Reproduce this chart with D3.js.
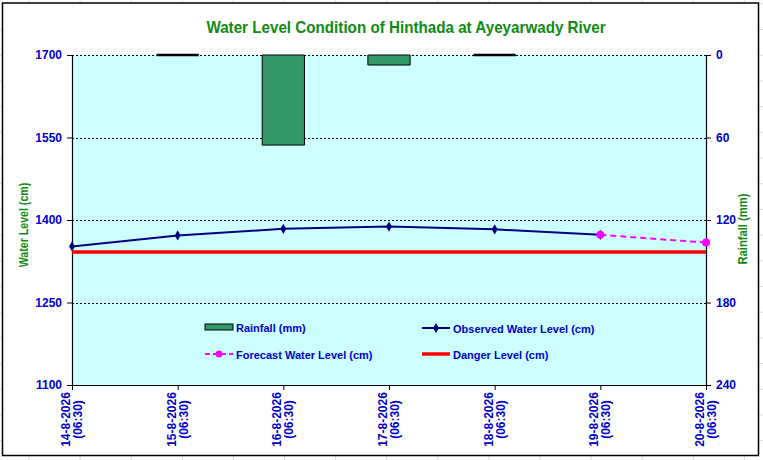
<!DOCTYPE html>
<html>
<head>
<meta charset="utf-8">
<script src="https://cdn.jsdelivr.net/npm/d3@7"></script>
<style>
  body { margin: 0; background: #fff; }
  svg { display: block; font-family: "Liberation Sans", Arial, sans-serif; font-weight: bold; }
</style>
</head>
<body>
<div class="chart"></div>
<script>
/////////////
// Data
/////////////
var dates = ['14-8-2026', '15-8-2026', '16-8-2026', '17-8-2026', '18-8-2026', '19-8-2026', '20-8-2026']
var hourLabel = '(06:30)'
var rainfall = [null, 0, 65.5, 7.3, 0, null, null]
var observed = [1352, 1372, 1384, 1388, 1383, 1373, null]
var forecast = [null, null, null, null, null, 1373, 1359]
var dangerLevel = 1342
var levelTicks = [1100, 1250, 1400, 1550, 1700]
var rainTicks = [0, 60, 120, 180, 240]

var title = 'Water Level Condition of Hinthada at Ayeyarwady River'
var legendItems = [
  {key: 'rain', text: 'Rainfall (mm)'},
  {key: 'obs', text: 'Observed Water Level (cm)'},
  {key: 'fc', text: 'Forecast Water Level (cm)'},
  {key: 'danger', text: 'Danger Level (cm)'}
]

////////////////
// Setup
////////////////
var w = 763, h = 460
var pLeft = 72, pRight = 706, pTop = 55, pBottom = 385
var blue = '#0000cc', green = '#108a10'

var svg = d3.select('div.chart').append('svg')
  .attr('width', w).attr('height', h)

// spreadsheet cells behind the chart
var cells = svg.append('g').attr('stroke', '#dcdcdc').attr('stroke-width', 1)
d3.range(29, w, 51.1).forEach(function(x) {
  cells.append('line').attr('x1', x).attr('x2', x).attr('y1', 0).attr('y2', h)
})
d3.range(158 - 25.7 * 6, h, 25.7).forEach(function(y) {
  cells.append('line').attr('x1', 0).attr('x2', w).attr('y1', y).attr('y2', y)
})

svg.append('rect')
  .attr('x', 2.5).attr('y', 3).attr('width', 756).attr('height', 452.5)
  .attr('fill', '#fff').attr('stroke', '#000').attr('stroke-width', 1.5)

var x = d3.scalePoint().domain(dates).range([pLeft, pRight])
var yL = d3.scaleLinear().domain([1100, 1700]).range([pBottom, pTop])
var yR = d3.scaleLinear().domain([0, 240]).range([pTop, pBottom])
var barW = x.step() / 2.5

// plot area
svg.append('rect')
  .attr('x', pLeft).attr('y', pTop).attr('width', pRight - pLeft).attr('height', pBottom - pTop)
  .attr('fill', '#ccffff')

// grid
svg.append('g').selectAll('line')
  .data(levelTicks.filter(d => d > 1100))
  .enter().append('line')
  .attr('x1', pLeft).attr('x2', pRight)
  .attr('y1', d => Math.round(yL(d)) + 0.5).attr('y2', d => Math.round(yL(d)) + 0.5)
  .attr('stroke', '#000').attr('stroke-dasharray', '2,2')

// title
svg.append('text')
  .attr('transform', 'translate(406,33) scale(0.95,1)')
  .attr('text-anchor', 'middle')
  .attr('font-size', 16).attr('fill', green)
  .text(title)

// rainfall bars hang from the top (paths so a zero bar still shows its edge)
svg.append('g').selectAll('path')
  .data(dates.map((d, i) => ({date: d, v: rainfall[i]})).filter(d => d.v != null))
  .enter().append('path')
  .attr('d', d => `M${x(d.date) - barW / 2},${yR(0)}h${barW}V${yR(d.v)}h${-barW}Z`)
  .attr('fill', '#339966')
  .attr('stroke', '#000').attr('stroke-width', d => d.v > 0 ? 1 : 2.5)

// axes
var axL = svg.append('g').attr('transform', `translate(${pLeft},0)`)
  .call(d3.axisLeft(yL).tickValues(levelTicks).tickFormat(d3.format('d')).tickSize(5).tickPadding(5).tickSizeOuter(0))
var axR = svg.append('g').attr('transform', `translate(${pRight},0)`)
  .call(d3.axisRight(yR).tickValues(rainTicks).tickSize(5).tickPadding(5).tickSizeOuter(0))
var axB = svg.append('g').attr('transform', `translate(0,${pBottom})`)
  .call(d3.axisBottom(x).tickSize(5).tickSizeOuter(0).tickFormat(''))

;[axL, axR, axB].forEach(function(a) {
  a.attr('font-family', null)
  a.select('.domain').attr('stroke', '#000').attr('stroke-width', 1.2)
  a.selectAll('.tick line').attr('stroke', '#000')
  a.selectAll('.tick text').attr('fill', blue).attr('font-size', 12)
})

// date labels, rotated, two lines
var dl = svg.append('g').selectAll('text')
  .data(dates).enter().append('text')
  .attr('transform', d => `translate(${x(d)},419.5) rotate(-90)`)
  .attr('text-anchor', 'middle')
  .attr('font-size', 12).attr('fill', blue)
dl.append('tspan').attr('x', 0).attr('y', -2).text(d => d)
dl.append('tspan').attr('x', 0).attr('y', 10).text(hourLabel)

// axis titles
svg.append('text')
  .attr('transform', 'translate(27.5,225) rotate(-90) scale(0.85,1)')
  .attr('text-anchor', 'middle').attr('font-size', 12.5).attr('fill', green)
  .text('Water Level (cm)')
svg.append('text')
  .attr('transform', 'translate(746.5,229) rotate(-90) scale(0.9,1)')
  .attr('text-anchor', 'middle').attr('font-size', 12.5).attr('fill', green)
  .text('Rainfall (mm)')

// danger level
svg.append('line')
  .attr('x1', pLeft).attr('x2', pRight)
  .attr('y1', yL(dangerLevel)).attr('y2', yL(dangerLevel))
  .attr('stroke', '#ff0000').attr('stroke-width', 3.5)

// observed
var obsPts = dates.map((d, i) => ({date: d, v: observed[i]})).filter(d => d.v != null)
var line = d3.line().x(d => x(d.date)).y(d => yL(d.v))
svg.append('path').datum(obsPts)
  .attr('d', line).attr('fill', 'none')
  .attr('stroke', '#000080').attr('stroke-width', 2)

// forecast
var fcPts = dates.map((d, i) => ({date: d, v: forecast[i]})).filter(d => d.v != null)
svg.append('path').datum(fcPts)
  .attr('d', line).attr('fill', 'none')
  .attr('stroke', '#ff00ff').attr('stroke-width', 2).attr('stroke-dasharray', '6,4')

var diamond = d3.symbol().type(d3.symbolDiamond).size(30)
svg.append('g').selectAll('path')
  .data(obsPts).enter().append('path')
  .attr('d', diamond)
  .attr('transform', d => `translate(${x(d.date)},${yL(d.v)})`)
  .attr('fill', '#000080')

svg.append('g').selectAll('circle')
  .data(fcPts).enter().append('circle')
  .attr('cx', d => x(d.date)).attr('cy', d => yL(d.v)).attr('r', 4)
  .attr('fill', '#ff00ff')

// legend
var legPos = {rain: [205, 327], obs: [422, 328], fc: [205, 354], danger: [422, 354]}
var leg = svg.append('g').selectAll('g')
  .data(legendItems).enter().append('g')
  .attr('transform', d => `translate(${legPos[d.key][0]},${legPos[d.key][1]})`)

leg.each(function(d) {
  var g = d3.select(this)
  if (d.key == 'rain') {
    g.append('rect').attr('x', 0).attr('y', -3).attr('width', 28).attr('height', 6)
      .attr('fill', '#339966').attr('stroke', '#000')
  } else if (d.key == 'obs') {
    g.append('line').attr('x1', 0).attr('x2', 28).attr('stroke', '#000080').attr('stroke-width', 2)
    g.append('path').attr('d', diamond).attr('transform', 'translate(14,0)').attr('fill', '#000080')
  } else if (d.key == 'fc') {
    g.append('line').attr('x1', 0).attr('x2', 28).attr('stroke', '#ff00ff')
      .attr('stroke-width', 2).attr('stroke-dasharray', '5,3')
    g.append('circle').attr('cx', 14).attr('r', 3.5).attr('fill', '#ff00ff')
  } else {
    g.append('line').attr('x1', 0).attr('x2', 28).attr('stroke', '#ff0000').attr('stroke-width', 3.5)
  }
  g.append('text').attr('x', 31).attr('y', 4.5)
    .attr('font-size', 11).attr('fill', blue).text(d.text)
})
</script>
</body>
</html>
